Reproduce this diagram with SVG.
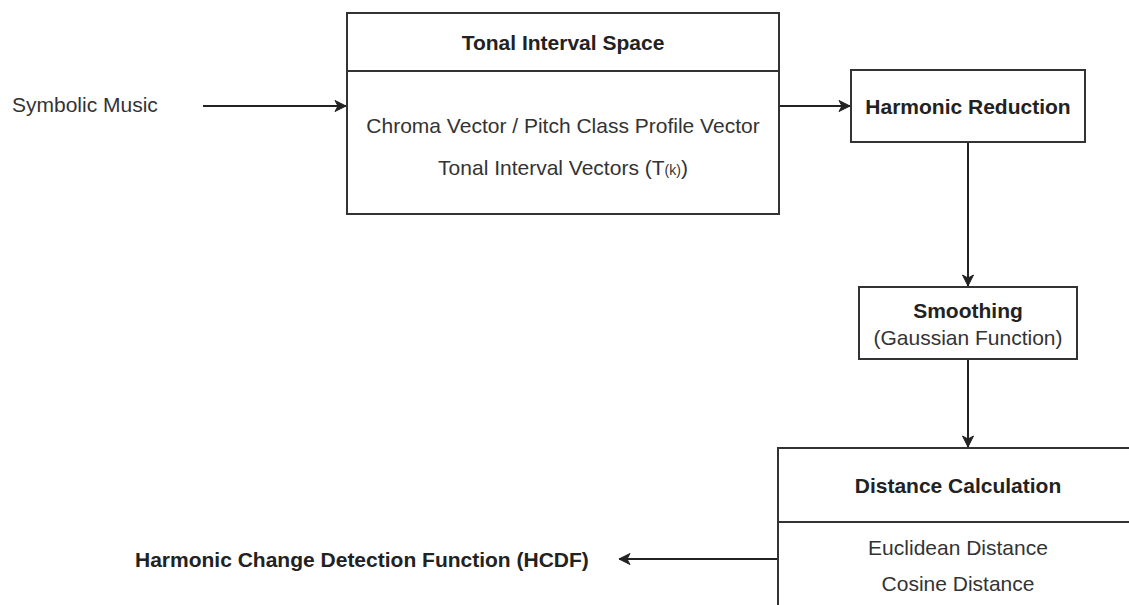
<svg xmlns="http://www.w3.org/2000/svg" width="1129" height="605" viewBox="0 0 1129 605">
<style>
.box{fill:#fff;stroke:#333;stroke-width:2}
.t{font-family:"Liberation Sans",Arial,Helvetica,sans-serif;font-size:21px;fill:#333;text-anchor:middle}
.b{font-weight:bold;fill:#222}
.edge{fill:none;stroke:#222;stroke-width:2}
</style>
<defs>
<marker id="arr" markerUnits="userSpaceOnUse" markerWidth="14" markerHeight="14" viewBox="0 0 14 14" refX="12" refY="7" orient="auto">
<path d="M1,1.5 L12,7 L1,12.5 L4,7 Z" fill="#222" stroke="#222" stroke-width="1"/>
</marker>
</defs>
<rect width="1129" height="605" fill="#fff"/>
<g id="connectors">
<line class="edge" x1="203" y1="106" x2="346" y2="106" marker-end="url(#arr)"/>
<line class="edge" x1="779" y1="106" x2="850" y2="106" marker-end="url(#arr)"/>
<line class="edge" x1="968" y1="142" x2="968" y2="286" marker-end="url(#arr)"/>
<line class="edge" x1="968" y1="359" x2="968" y2="447" marker-end="url(#arr)"/>
<line class="edge" x1="778" y1="559" x2="619" y2="559" marker-end="url(#arr)"/>
</g>
<g id="symbolic-music">
<text class="t" x="12" y="112" style="text-anchor:start">Symbolic Music</text>
</g>
<g id="tonal-interval-space">
<rect class="box" x="347" y="13" width="432" height="201"/>
<line class="box" x1="347" y1="71" x2="779" y2="71"/>
<text class="t b" x="563" y="49.5">Tonal Interval Space</text>
<text class="t" x="563" y="132.5">Chroma Vector / Pitch Class Profile Vector</text>
<text class="t" x="563" y="174.5">Tonal Interval Vectors (T<tspan font-size="14">(k)</tspan>)</text>
</g>
<g id="harmonic-reduction">
<rect class="box" x="851" y="70" width="234" height="72"/>
<text class="t b" x="968" y="113.5">Harmonic Reduction</text>
</g>
<g id="smoothing">
<rect class="box" x="859" y="287" width="218" height="72"/>
<text class="t b" x="968" y="317.5">Smoothing</text>
<text class="t" x="968" y="344.5">(Gaussian Function)</text>
</g>
<g id="distance-calculation">
<rect class="box" x="778" y="448" width="360" height="180"/>
<line class="box" x1="778" y1="522" x2="1138" y2="522"/>
<text class="t b" x="958" y="492.5">Distance Calculation</text>
<text class="t" x="958" y="554.5">Euclidean Distance</text>
<text class="t" x="958" y="590.5">Cosine Distance</text>
</g>
<g id="hcdf">
<text class="t b" x="135" y="566.5" style="text-anchor:start">Harmonic Change Detection Function (HCDF)</text>
</g>
</svg>
